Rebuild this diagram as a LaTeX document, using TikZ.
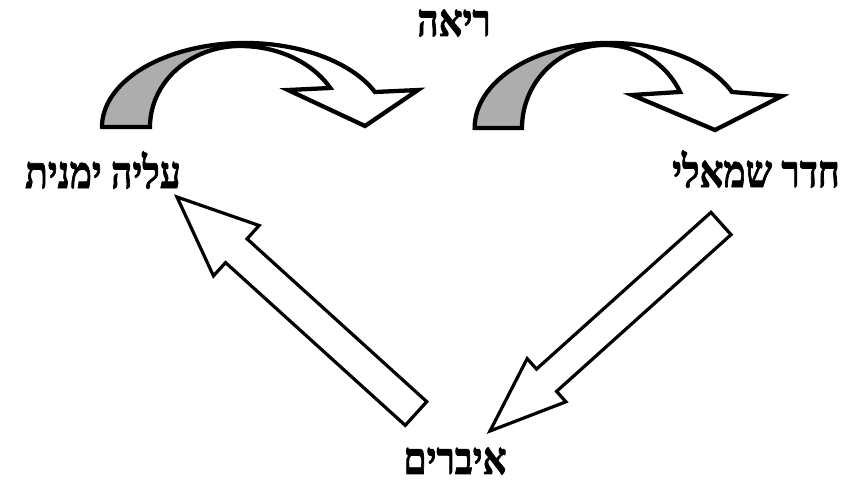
\documentclass[tikz,border=0pt]{standalone}
\usepackage{fontspec}
\newfontfamily\hebfont[Script=Hebrew,BoldFont={Liberation Serif Bold},BoldFeatures={FakeBold=1.8}]{Liberation Serif}
\TeXXeTstate=1
\usetikzlibrary{calc}
\newcommand\hebtall[1]{\scalebox{1}[1.2]{\beginR #1\endR}}
\tikzset{
  hebtext/.style={font=\hebfont\bfseries\fontsize{28}{30}\selectfont, inner sep=0pt, text=black},
  shadedpart/.style={fill=black!32},
  curvedline/.style={draw=black, line width=3.2pt, line join=miter, miter limit=6},
  blockline/.style={draw=black, line width=2.4pt, line join=miter, miter limit=6, fill=white},
}
\begin{document}
\begin{tikzpicture}[x=0.75pt,y=-0.75pt]
\useasboundingbox (0,0) rectangle (866,482);
\fill[white] (0,0) rectangle (866,482);

% labels
\node[hebtext] (lung) at (454,23) {\hebtall{ריאה}};
\node[hebtext] (ra) at (103,170) {\hebtall{עליה ימנית}};
\node[hebtext] (lv) at (756,169) {\hebtall{חדר שמאלי}};
\node[hebtext] (org) at (455,461) {\hebtall{איברים}};

% curved arrow: right atrium -> lung
\coordinate (c1s) at (102,127);
\fill[shadedpart] (c1s) arc[start angle=180,end angle=270,x radius=143,y radius=84]
  -- (240,46) arc[start angle=270,end angle=180,x radius=90,y radius=81] -- cycle;
\draw[curvedline] (c1s) -- (150,127)
  arc[start angle=180,end angle=270,x radius=90,y radius=81]
  arc[start angle=270,end angle=331.2,x radius=103,y radius=81]
  -- (288,90) -- (365,126) -- (418,90) -- (375,92)
  arc[start angle=335.4,end angle=180,x radius=143,y radius=84] -- cycle;

% curved arrow: lung -> left ventricle
\coordinate (c2s) at (475,128);
\fill[shadedpart] (c2s) arc[start angle=180,end angle=270,x radius=135,y radius=85]
  -- (605,45) arc[start angle=270,end angle=180,x radius=83,y radius=83] -- cycle;
\draw[curvedline] (c2s) -- (522,128)
  arc[start angle=180,end angle=270,x radius=83,y radius=83]
  arc[start angle=270,end angle=334.7,x radius=83,y radius=82]
  -- (632,95) -- (715,130) -- (782,96) -- (732,92)
  arc[start angle=335,end angle=180,x radius=135,y radius=85] -- cycle;

% straight block arrow: left ventricle -> organs
\coordinate (aTail) at (721,223.5);
\coordinate (aTip) at (490,431);
\coordinate (aHead) at ($(aTip)!57pt!(aTail)$);
\draw[blockline] ($(aTail)!11.25pt!90:(aTip)$) -- ($(aHead)!11.25pt!90:(aTip)$)
  -- ($(aHead)!21.75pt!90:(aTip)$) -- (aTip) -- ($(aHead)!21.75pt!-90:(aTip)$)
  -- ($(aHead)!11.25pt!-90:(aTip)$) -- ($(aTail)!11.25pt!-90:(aTip)$) -- cycle;

% straight block arrow: organs -> right atrium
\coordinate (bTail) at (416,413.5);
\coordinate (bTip) at (177,197);
\coordinate (bHead) at ($(bTip)!60pt!(bTail)$);
\draw[blockline] ($(bTail)!12pt!90:(bTip)$) -- ($(bHead)!12pt!90:(bTip)$)
  -- ($(bHead)!25.5pt!90:(bTip)$) -- (bTip) -- ($(bHead)!25.5pt!-90:(bTip)$)
  -- ($(bHead)!12pt!-90:(bTip)$) -- ($(bTail)!12pt!-90:(bTip)$) -- cycle;
\end{tikzpicture}
\end{document}
